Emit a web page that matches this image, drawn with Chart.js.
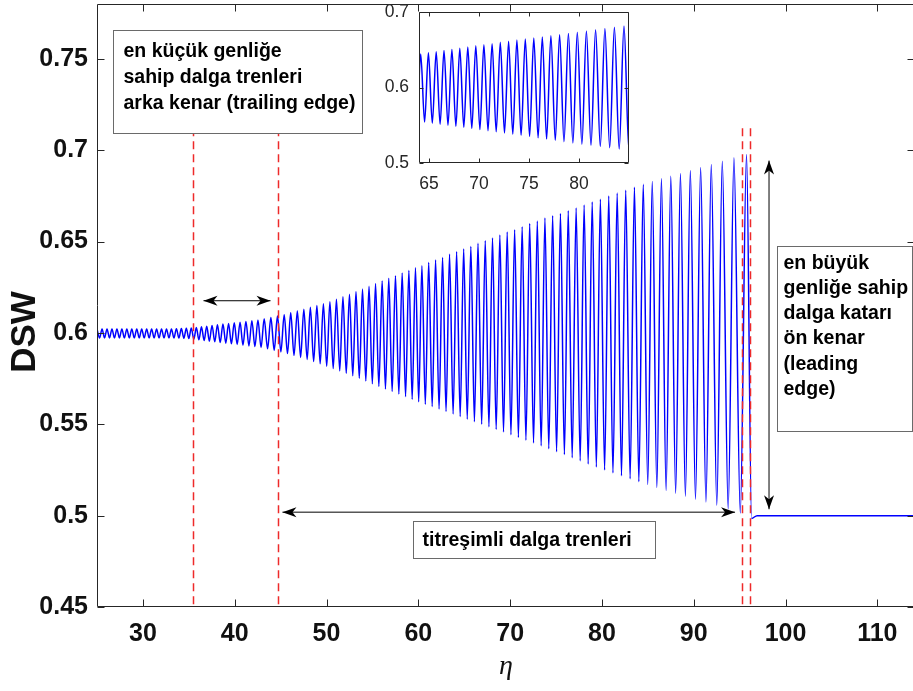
<!DOCTYPE html>
<html>
<head>
<meta charset="utf-8">
<script src="https://cdn.jsdelivr.net/npm/chart.js@4.4.1/dist/chart.umd.min.js"></script>
<style>
  html, body { margin: 0; padding: 0; background: #fff; }
  #wrap { position: relative; width: 913px; height: 691px; overflow: hidden; background: #fff; }
  #main { position: absolute; left: 0; top: 0; }
  #inset { position: absolute; left: 370px; top: 0; }
</style>
</head>
<body>
<div id="wrap">
  <canvas id="main" width="920" height="691"></canvas>
  <canvas id="inset" width="270" height="200"></canvas>
</div>
<script>
// DSW profile: crests and troughs of the wave train
const startEta = [25.00];
const startDsw = [0.6022];

const crestEta = [
  25.55, 26.09, 26.63, 27.17, 27.71, 28.25, 28.79, 29.33, 29.87, 30.41,
  30.95, 31.49, 32.03, 32.57, 33.11, 33.65, 34.19, 34.73, 35.27, 35.82,
  36.38, 36.95, 37.53, 38.12, 38.72, 39.33, 39.95, 40.58, 41.22, 41.87,
  42.53, 43.21, 43.94, 44.66, 45.39, 46.10, 46.82, 47.53, 48.24, 48.95,
  49.66, 50.37, 51.08, 51.79, 52.50, 53.21, 53.92, 54.63, 55.34, 56.06,
  56.78, 57.51, 58.24, 58.97, 59.69,
  60.39, 61.13, 61.88, 62.64, 63.40, 64.17, 64.94, 65.72, 66.50, 67.29,
  68.08, 68.88, 69.68, 70.49, 71.31, 72.13, 72.96, 73.79, 74.63, 75.48,
  76.33, 77.19, 78.06,
  78.94, 79.83, 80.74, 81.66, 82.59, 83.54, 84.50, 85.48, 86.48, 87.50,
  88.55, 89.63, 90.75, 91.91, 93.11, 94.38, 95.75
];
const crestDsw = [
  0.6022, 0.6022, 0.6022, 0.6022, 0.6022, 0.6022, 0.6022, 0.6022, 0.6022, 0.6022,
  0.6022, 0.6022, 0.6022, 0.6022, 0.6022, 0.6023, 0.6024, 0.6025, 0.6027, 0.6030,
  0.6034, 0.6037, 0.6041, 0.6045, 0.6049, 0.6052, 0.6055, 0.6059, 0.6063, 0.6067,
  0.6071, 0.6077, 0.6084, 0.6092, 0.6100, 0.6110, 0.6120, 0.6130, 0.6140, 0.6150,
  0.6160, 0.6171, 0.6184, 0.6198, 0.6212, 0.6226, 0.6240, 0.6255, 0.6270, 0.6284,
  0.6299, 0.6313, 0.6328, 0.6342, 0.6356,
  0.6367, 0.6385, 0.6399, 0.6413, 0.6431, 0.6444, 0.6459, 0.6473, 0.6490, 0.6504,
  0.6519, 0.6536, 0.6552, 0.6565, 0.6581, 0.6599, 0.6612, 0.6629, 0.6641, 0.6654,
  0.6669, 0.6684, 0.6700,
  0.6716, 0.6732, 0.6749, 0.6765, 0.6781, 0.6797, 0.6813, 0.6828, 0.6843, 0.6858,
  0.6873, 0.6889, 0.6905, 0.6922, 0.6940, 0.6958, 0.6976
];
// each trough sits just before the crest with the same index
const troughEta = [
  25.28, 25.82, 26.36, 26.90, 27.44, 27.98, 28.52, 29.06, 29.60, 30.14,
  30.68, 31.22, 31.76, 32.30, 32.84, 33.38, 33.92, 34.46, 35.00, 35.55,
  36.10, 36.67, 37.24, 37.83, 38.42, 39.03, 39.64, 40.27, 40.90, 41.55,
  42.20, 42.87, 43.58, 44.30, 45.03, 45.75, 46.46, 47.18, 47.89, 48.60,
  49.31, 50.02, 50.73, 51.44, 52.15, 52.86, 53.57, 54.28, 54.99, 55.70,
  56.42, 57.15, 57.88, 58.61, 59.33,
  60.04, 60.76, 61.51, 62.26, 63.02, 63.79, 64.56, 65.33, 66.11, 66.90,
  67.69, 68.48, 69.28, 70.09, 70.90, 71.72, 72.55, 73.38, 74.21, 75.06,
  75.91, 76.76, 77.63,
  78.50, 79.39, 80.29, 81.20, 82.13, 83.07, 84.02, 84.99, 85.98, 86.99,
  88.03, 89.09, 90.19, 91.33, 92.51, 93.75, 95.07
];
const troughDsw = [
  0.5972, 0.5972, 0.5972, 0.5972, 0.5972, 0.5972, 0.5972, 0.5972, 0.5972, 0.5972,
  0.5972, 0.5972, 0.5972, 0.5972, 0.5972, 0.5972, 0.5972, 0.5971, 0.5969, 0.5966,
  0.5962, 0.5958, 0.5955, 0.5951, 0.5947, 0.5944, 0.5940, 0.5937, 0.5933, 0.5929,
  0.5925, 0.5920, 0.5913, 0.5905, 0.5896, 0.5887, 0.5877, 0.5866, 0.5855, 0.5843,
  0.5831, 0.5818, 0.5805, 0.5792, 0.5779, 0.5765, 0.5751, 0.5737, 0.5722, 0.5707,
  0.5693, 0.5679, 0.5665, 0.5651, 0.5637,
  0.5623, 0.5610, 0.5597, 0.5584, 0.5570, 0.5556, 0.5542, 0.5528, 0.5514, 0.5500,
  0.5486, 0.5472, 0.5458, 0.5443, 0.5428, 0.5413, 0.5398, 0.5382, 0.5366, 0.5350,
  0.5334, 0.5317, 0.5300,
  0.5283, 0.5266, 0.5250, 0.5234, 0.5218, 0.5202, 0.5186, 0.5170, 0.5154, 0.5138,
  0.5122, 0.5106, 0.5090, 0.5074, 0.5057, 0.5038, 0.5014
];
// flat state ahead of the leading edge
const tailEta = [96.30, 96.90, 114.1];
const tailDsw = [0.4985, 0.5000, 0.5000];

const xTicks = [30, 40, 50, 60, 70, 80, 90, 100, 110];
const yTicks = [0.45, 0.5, 0.55, 0.6, 0.65, 0.7, 0.75];
const yTickLabels = ['0.45', '0.5', '0.55', '0.6', '0.65', '0.7', '0.75'];
const insetXTicks = [65, 70, 75, 80];
const insetYTicks = [0.5, 0.6, 0.7];
const insetYTickLabels = ['0.5', '0.6', '0.7'];

// red dashed boundaries of the trailing / leading edges
const edgeEta = [35.5, 44.75, 95.28, 96.15];

function buildProfile() {
  const pts = startEta.map((e, i) => ({ x: e, y: startDsw[i] }));
  crestEta.forEach((e, i) => {
    pts.push({ x: troughEta[i], y: troughDsw[i] });
    pts.push({ x: e, y: crestDsw[i] });
  });
  tailEta.forEach((e, i) => pts.push({ x: e, y: tailDsw[i] }));
  return pts;
}

const SANS = '"Liberation Sans", Arial, Helvetica, sans-serif';
const AXIS = '#262626';

const notes = [
  { x0: 26.76, x1: 53.89, y0: 0.7656, y1: 0.7096, padX: 10, padY: 21, gap: 26,
    lines: ['en küçük genliğe', 'sahip dalga trenleri', 'arka kenar (trailing edge)'] },
  { x0: 59.45, x1: 85.80, y0: 0.4969, y1: 0.4766, padX: 9, padY: 19, gap: 25,
    lines: ['titreşimli dalga trenleri'] },
  { x0: 99.10, x1: 113.80, y0: 0.6477, y1: 0.5463, padX: 6, padY: 17, gap: 25.2,
    lines: ['en büyük', 'genliğe sahip', 'dalga katarı', 'ön kenar', '(leading', 'edge)'] }
];
const arrows = [
  { a: [36.6, 0.6176], b: [43.9, 0.6176] },
  { a: [45.2, 0.5019], b: [94.5, 0.5019] },
  { a: [98.2, 0.6943], b: [98.2, 0.5035] }
];

// no extra room for half-height end labels: the plot box is placed exactly
function noScalePadding(s) {
  s.paddingTop = 0; s.paddingBottom = 0; s.paddingLeft = 0; s.paddingRight = 0;
}

// MATLAB-style box with inward tick marks
const frame = {
  id: 'frame',
  afterDatasetsDraw(chart, args, o) {
    const { ctx, chartArea: a, scales: { x, y } } = chart;
    const L = Math.round(a.left) + 0.5, R = Math.round(a.right) - 0.5;
    const T = Math.round(a.top) + 0.5, B = Math.round(a.bottom) - 0.5;
    ctx.save();
    ctx.strokeStyle = AXIS;
    ctx.lineWidth = 1;
    ctx.beginPath();
    ctx.rect(L, T, R - L, B - T);
    x.ticks.forEach(t => {
      const px = Math.round(x.getPixelForValue(t.value)) + 0.5;
      ctx.moveTo(px, B); ctx.lineTo(px, B - o.tick);
      ctx.moveTo(px, T); ctx.lineTo(px, T + o.tick);
    });
    y.ticks.forEach(t => {
      const py = Math.round(y.getPixelForValue(t.value)) + 0.5;
      ctx.moveTo(L, py); ctx.lineTo(L + o.tick, py);
      ctx.moveTo(R, py); ctx.lineTo(R - o.tick, py);
    });
    ctx.stroke();
    ctx.restore();
  }
};

function arrowHead(ctx, x, y, ang) {
  ctx.save();
  ctx.translate(x, y);
  ctx.rotate(ang);
  ctx.beginPath();
  ctx.moveTo(0, 0);
  ctx.lineTo(-14, -5);
  ctx.lineTo(-10, 0);
  ctx.lineTo(-14, 5);
  ctx.closePath();
  ctx.fill();
  ctx.restore();
}

const annotations = {
  id: 'annotations',
  afterDraw(chart) {
    const { ctx, chartArea: a, scales: { x, y } } = chart;
    ctx.save();

    // edge markers
    ctx.strokeStyle = '#ee2a2a';
    ctx.lineWidth = 1.5;
    ctx.setLineDash([8, 5]);
    edgeEta.forEach(e => {
      const px = Math.round(x.getPixelForValue(e)) + 0.5;
      ctx.beginPath();
      ctx.moveTo(px, y.getPixelForValue(0.712));
      ctx.lineTo(px, a.bottom);
      ctx.stroke();
    });
    ctx.setLineDash([]);

    // text boxes
    ctx.font = 'bold 19.5px ' + SANS;
    ctx.textBaseline = 'middle';
    ctx.textAlign = 'left';
    notes.forEach(n => {
      const l = Math.round(x.getPixelForValue(n.x0)) + 0.5;
      const r = Math.round(x.getPixelForValue(n.x1)) + 0.5;
      const t = Math.round(y.getPixelForValue(n.y0)) + 0.5;
      const b = Math.round(y.getPixelForValue(n.y1)) + 0.5;
      ctx.fillStyle = '#fff';
      ctx.fillRect(l, t, r - l, b - t);
      ctx.strokeStyle = '#6a6a6a';
      ctx.lineWidth = 1;
      ctx.strokeRect(l, t, r - l, b - t);
      ctx.fillStyle = '#000';
      n.lines.forEach((s, i) => ctx.fillText(s, l + n.padX, t + n.padY + i * n.gap));
    });

    // double arrows
    ctx.strokeStyle = '#000';
    ctx.fillStyle = '#000';
    ctx.lineWidth = 1;
    arrows.forEach(ar => {
      const x1 = x.getPixelForValue(ar.a[0]), y1 = y.getPixelForValue(ar.a[1]);
      const x2 = x.getPixelForValue(ar.b[0]), y2 = y.getPixelForValue(ar.b[1]);
      const ang = Math.atan2(y2 - y1, x2 - x1);
      ctx.beginPath();
      ctx.moveTo(x1, y1);
      ctx.lineTo(x2, y2);
      ctx.stroke();
      arrowHead(ctx, x2, y2, ang);
      arrowHead(ctx, x1, y1, ang + Math.PI);
    });

    // y axis label
    ctx.font = 'bold 35px ' + SANS;
    ctx.fillStyle = '#111';
    ctx.textAlign = 'center';
    ctx.translate(25, y.getPixelForValue(0.6005));
    ctx.rotate(-Math.PI / 2);
    ctx.fillText('DSW', 0, 0);
    ctx.restore();
  }
};

new Chart(document.getElementById('main'), {
  type: 'line',
  data: {
    datasets: [{
      data: buildProfile(),
      borderColor: '#0000ff',
      borderWidth: 1.5,
      pointRadius: 0,
      fill: false,
      cubicInterpolationMode: 'monotone'
    }]
  },
  options: {
    responsive: false,
    animation: false,
    events: [],
    layout: { autoPadding: false, padding: { top: 4, right: 5, left: 0, bottom: 0 } },
    plugins: { legend: { display: false }, tooltip: { enabled: false }, frame: { tick: 7 } },
    scales: {
      x: {
        type: 'linear', min: 25, max: 114.1,
        grid: { display: false, drawTicks: false },
        border: { display: false },
        afterBuildTicks: s => { s.ticks = xTicks.map(v => ({ value: v })); },
        afterFit: s => { s.height = 84; noScalePadding(s); },
        ticks: { autoSkip: false, maxRotation: 0, padding: 12, color: '#111',
                 font: { family: SANS, size: 25, weight: 'bold' }, callback: v => String(v) },
        title: { display: true, text: 'η', color: '#111',
                 font: { family: '"Liberation Serif", "DejaVu Serif", serif', style: 'italic', size: 28 },
                 padding: { top: 0, bottom: 8 } }
      },
      y: {
        type: 'linear', min: 0.45, max: 0.78,
        grid: { display: false, drawTicks: false },
        border: { display: false },
        afterBuildTicks: s => { s.ticks = yTicks.map(v => ({ value: v })); },
        afterFit: s => { s.width = 97; noScalePadding(s); },
        ticks: { autoSkip: false, padding: 9, color: '#111',
                 font: { family: SANS, size: 25, weight: 'bold' }, callback: (v, i) => yTickLabels[i] }
      }
    }
  },
  plugins: [frame, annotations]
});

// zoomed view of the middle of the wave train
const insetBg = {
  id: 'insetBg',
  beforeDatasetsDraw(chart) {
    const { ctx, chartArea: a } = chart;
    ctx.save();
    ctx.fillStyle = '#fff';
    ctx.fillRect(a.left, a.top, a.width, a.height);
    ctx.restore();
  }
};

new Chart(document.getElementById('inset'), {
  type: 'line',
  data: {
    datasets: [{
      data: buildProfile(),
      borderColor: '#0000ff',
      borderWidth: 1.5,
      pointRadius: 0,
      fill: false,
      cubicInterpolationMode: 'monotone'
    }]
  },
  options: {
    responsive: false,
    animation: false,
    events: [],
    layout: { autoPadding: false, padding: { top: 12, right: 11, left: 0, bottom: 0 } },
    plugins: { legend: { display: false }, tooltip: { enabled: false }, frame: { tick: 4 } },
    scales: {
      x: {
        type: 'linear', min: 64, max: 85,
        grid: { display: false, drawTicks: false },
        border: { display: false },
        afterBuildTicks: s => { s.ticks = insetXTicks.map(v => ({ value: v })); },
        afterFit: s => { s.height = 37; noScalePadding(s); },
        ticks: { autoSkip: false, maxRotation: 0, padding: 11, color: AXIS,
                 font: { family: SANS, size: 17.5 }, callback: v => String(v) }
      },
      y: {
        type: 'linear', min: 0.5, max: 0.7,
        grid: { display: false, drawTicks: false },
        border: { display: false },
        afterBuildTicks: s => { s.ticks = insetYTicks.map(v => ({ value: v })); },
        afterFit: s => { s.width = 49; noScalePadding(s); },
        ticks: { autoSkip: false, padding: 10, color: AXIS,
                 font: { family: SANS, size: 17.5 }, callback: (v, i) => insetYTickLabels[i] }
      }
    }
  },
  plugins: [insetBg, frame]
});
</script>
</body>
</html>
